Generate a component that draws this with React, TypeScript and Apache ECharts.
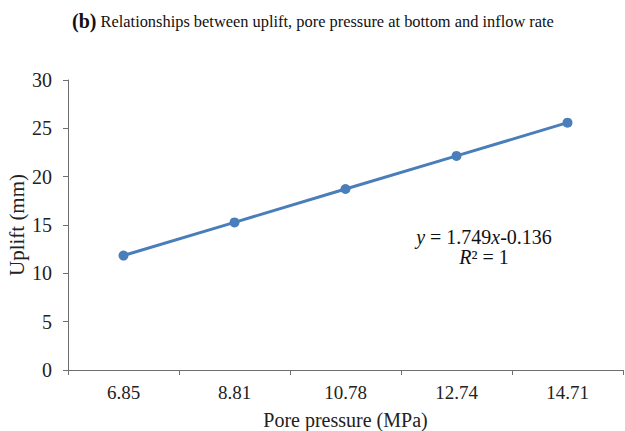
import React, { useEffect, useRef } from "react";
import * as echarts from "echarts";

const porePressure = ["6.85", "8.81", "10.78", "12.74", "14.71"];
const uplift = [11.84, 15.27, 18.72, 22.15, 25.59];
const yTicks = { min: 0, max: 30, interval: 5 };
const titleText = "Relationships between uplift, pore pressure at bottom and inflow rate";
const xTitle = "Pore pressure (MPa)";
const yTitle = "Uplift (mm)";

const FONT = "'Liberation Serif', 'Times New Roman', serif";

export default function App() {
  const ref = useRef<HTMLDivElement>(null);
  useEffect(() => {
    if (!ref.current) return;
    const chart = echarts.init(ref.current, null, { renderer: "svg" });
    chart.setOption({
      animation: false,
      backgroundColor: "#ffffff",
      textStyle: { fontFamily: FONT },
      title: {
        text: "{b|(b)}{n| " + titleText + "}",
        left: 67,
        top: 6,
        textStyle: {
          fontWeight: "normal",
          rich: {
            b: { fontFamily: FONT, fontWeight: "bold", fontSize: 20, color: "#111" },
            n: { fontFamily: FONT, fontWeight: "normal", fontSize: 16.4, color: "#111" },
          },
        },
      },
      grid: {
        left: 68,
        right: 2,
        top: 80,
        bottom: 61,
        containLabel: false,
        outerBoundsMode: "none",
      },
      xAxis: {
        type: "category",
        data: porePressure,
        boundaryGap: true,
        name: xTitle,
        nameLocation: "middle",
        nameGap: 40,
        nameTextStyle: { fontFamily: FONT, fontSize: 20, color: "#222" },
        axisLine: { lineStyle: { color: "#6e6e6e", width: 1 } },
        axisTick: { show: true, length: 5, lineStyle: { color: "#6e6e6e" } },
        axisLabel: { fontFamily: FONT, fontSize: 19, color: "#222", margin: 13 },
        splitLine: { show: false },
      },
      yAxis: {
        type: "value",
        min: yTicks.min,
        max: yTicks.max,
        interval: yTicks.interval,
        name: yTitle,
        nameLocation: "middle",
        nameGap: 41,
        nameMoveOverlap: false,
        nameTextStyle: { fontFamily: FONT, fontSize: 21, color: "#222" },
        axisLine: { show: true, lineStyle: { color: "#6e6e6e", width: 1 } },
        axisTick: { show: true, length: 5, lineStyle: { color: "#6e6e6e" } },
        axisLabel: { fontFamily: FONT, fontSize: 20, color: "#222", margin: 16 },
        splitLine: { show: false },
      },
      series: [
        {
          type: "line",
          data: uplift,
          symbol: "circle",
          symbolSize: 10,
          lineStyle: { color: "#4A7EBB", width: 3 },
          itemStyle: { color: "#4A7EBB" },
        },
      ],
      graphic: [
        {
          type: "text",
          x: 484,
          y: 237,
          style: {
            text: "{i|y} = 1.749{i|x}-0.136",
            align: "center",
            verticalAlign: "middle",
            rich: {
              i: { fontFamily: FONT, fontStyle: "italic", fontSize: 20, fill: "#111" },
            },
            fontFamily: FONT,
            fontSize: 20,
            fill: "#111",
          },
        },
        {
          type: "text",
          x: 484,
          y: 257,
          style: {
            text: "{i|R}² = 1",
            align: "center",
            verticalAlign: "middle",
            rich: {
              i: { fontFamily: FONT, fontStyle: "italic", fontSize: 20, fill: "#111" },
            },
            fontFamily: FONT,
            fontSize: 20,
            fill: "#111",
          },
        },
      ],
    });
    return () => chart.dispose();
  }, []);
  return <div ref={ref} style={{ width: 625, height: 431, position: "absolute", left: 0, top: 0 }} />;
}
